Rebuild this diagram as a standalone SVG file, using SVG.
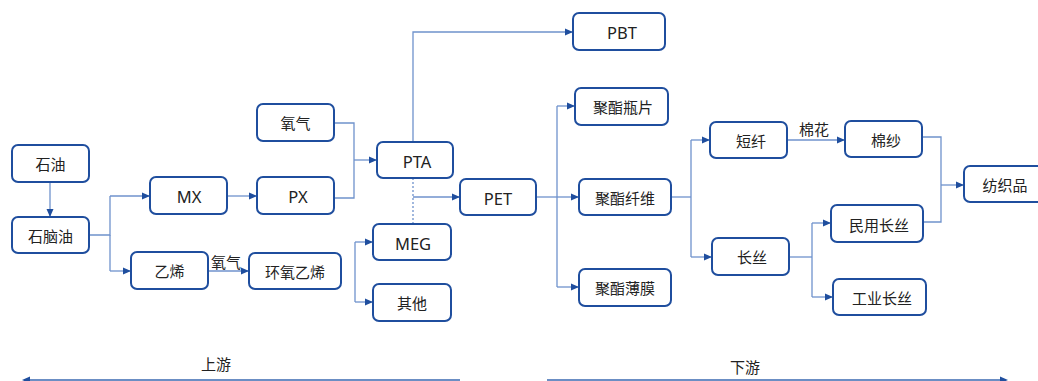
<svg xmlns="http://www.w3.org/2000/svg" width="1038" height="381" viewBox="0 0 1038 381">
<defs>
<marker id="ah" markerWidth="8" markerHeight="8" refX="7" refY="4" orient="auto" markerUnits="userSpaceOnUse">
<path d="M0,0.5 L8,4 L0,7.5 Z" fill="#1F4E9E"/>
</marker>
<style>
.box{fill:#fff;stroke:#1F4E9E;stroke-width:2}
.t{font-family:"Noto Sans","Noto Sans CJK SC",sans-serif;font-size:15px;fill:#222;text-anchor:middle;dominant-baseline:central}
.l{font-size:16.5px}
.c{fill:none;stroke:#6F92CC;stroke-width:1.3}
.a{marker-end:url(#ah)}
.d{stroke-dasharray:2,2}
.bl{fill:none;stroke:#3A68B0;stroke-width:1.5}
</style>
</defs>
<rect width="1038" height="381" fill="#fff"/>
<g id="connectors">
<path class="c a" d="M50,182 V216"/>
<path class="c" d="M89,235 H110 V196"/>
<path class="c" d="M110,235 V271"/>
<path class="c a" d="M110,196 H149"/>
<path class="c a" d="M110,271 H130"/>
<path class="c a" d="M208,271 H248"/>
<text class="t" x="226" y="262">氧气</text>
<path class="c a" d="M227,196 H256"/>
<path class="c" d="M334,123 H354 V198 H334"/>
<path class="c a" d="M354,160 H376"/>
<path class="c a" d="M413,142 V32 H572"/>
<path class="c d" d="M413,178 V224"/>
<path class="c a" d="M413,197 H459"/>
<path class="c" d="M355,242 V302"/>
<path class="c a" d="M355,242 H372"/>
<path class="c a" d="M355,302 H372"/>
<path class="c" d="M536,197 H557"/>
<path class="c" d="M557,106 V287"/>
<path class="c a" d="M557,106 H574"/>
<path class="c a" d="M557,197 H578"/>
<path class="c a" d="M557,287 H578"/>
<path class="c" d="M671,197 H691"/>
<path class="c" d="M691,140 V257"/>
<path class="c a" d="M691,140 H709"/>
<path class="c a" d="M691,257 H711"/>
<path class="c a" d="M787,140 H844"/>
<text class="t" x="814" y="129">棉花</text>
<path class="c" d="M789,257 H812"/>
<path class="c" d="M812,223 V297"/>
<path class="c a" d="M812,223 H830"/>
<path class="c a" d="M812,297 H832"/>
<path class="c" d="M922,137 H941 V222 H923"/>
<path class="c a" d="M941,185 H963"/>
</g>
<g id="n-shiyou"><rect class="box" x="12" y="145" width="77" height="37" rx="6"/><text class="t" x="50.5" y="164">石油</text></g>
<g id="n-shinaoyou"><rect class="box" x="12" y="217" width="77" height="36" rx="6"/><text class="t" x="50.5" y="236">石脑油</text></g>
<g id="n-mx"><rect class="box" x="150" y="177" width="77" height="37" rx="6"/><text class="t l" x="189" y="196">MX</text></g>
<g id="n-yixi"><rect class="box" x="131" y="252" width="77" height="37" rx="6"/><text class="t" x="169.5" y="271">乙烯</text></g>
<g id="n-huanyang"><rect class="box" x="249" y="253" width="92" height="36" rx="6"/><text class="t" x="295" y="272">环氧乙烯</text></g>
<g id="n-yangqi"><rect class="box" x="257" y="104" width="77" height="37" rx="6"/><text class="t" x="295.5" y="123">氧气</text></g>
<g id="n-px"><rect class="box" x="257" y="177" width="77" height="37" rx="6"/><text class="t l" x="298" y="196">PX</text></g>
<g id="n-pta"><rect class="box" x="377" y="142" width="76" height="36" rx="6"/><text class="t l" x="417" y="161">PTA</text></g>
<g id="n-meg"><rect class="box" x="373" y="224" width="78" height="36" rx="6"/><text class="t l" x="413" y="243">MEG</text></g>
<g id="n-qita"><rect class="box" x="373" y="284" width="78" height="37" rx="6"/><text class="t" x="412" y="303">其他</text></g>
<g id="n-pet"><rect class="box" x="460" y="179" width="76" height="36" rx="6"/><text class="t l" x="498" y="198">PET</text></g>
<g id="n-pbt"><rect class="box" x="573" y="13" width="92" height="37" rx="6"/><text class="t l" x="622" y="32">PBT</text></g>
<g id="n-pingpian"><rect class="box" x="575" y="88" width="93" height="37" rx="6"/><text class="t" x="623" y="107">聚酯瓶片</text></g>
<g id="n-xianwei"><rect class="box" x="579" y="179" width="92" height="36" rx="6"/><text class="t" x="625" y="198">聚酯纤维</text></g>
<g id="n-bomo"><rect class="box" x="579" y="269" width="92" height="37" rx="6"/><text class="t" x="625" y="288">聚酯薄膜</text></g>
<g id="n-duanxian"><rect class="box" x="710" y="122" width="77" height="36" rx="6"/><text class="t" x="751" y="141">短纤</text></g>
<g id="n-changsi"><rect class="box" x="712" y="238" width="77" height="37" rx="6"/><text class="t" x="752" y="257">长丝</text></g>
<g id="n-mians"><rect class="box" x="845" y="121" width="77" height="36" rx="6"/><text class="t" x="886" y="140">棉纱</text></g>
<g id="n-minyong"><rect class="box" x="831" y="205" width="92" height="37" rx="6"/><text class="t" x="879" y="225">民用长丝</text></g>
<g id="n-gongye"><rect class="box" x="833" y="279" width="93" height="36" rx="6"/><text class="t" x="882" y="298">工业长丝</text></g>
<g id="n-fangzhi"><rect class="box" x="964" y="166" width="80" height="36" rx="6"/><text class="t" x="1005" y="185">纺织品</text></g>
<g id="scale">
<text class="t" x="216" y="364">上游</text>
<text class="t" x="745" y="367">下游</text>
<path class="bl" d="M460,380 H24"/>
<path d="M22,380 L30,376.5 L30,383.5 Z" fill="#1F4E9E"/>
<path class="bl" d="M547,380 H1004"/>
<path d="M1008,380 L1000,376.5 L1000,383.5 Z" fill="#1F4E9E"/>
</g>
</svg>
